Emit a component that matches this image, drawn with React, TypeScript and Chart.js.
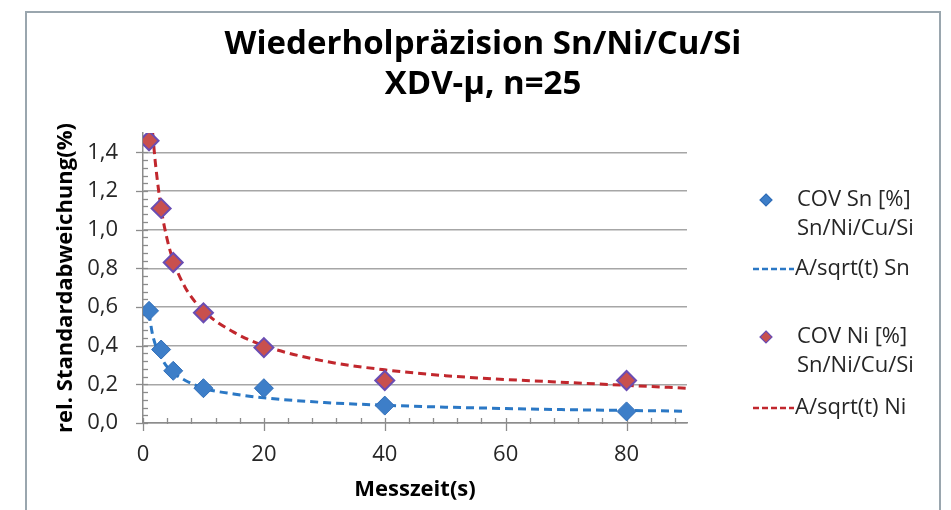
import React, { useEffect, useRef } from 'react';
import { Chart, registerables } from 'chart.js';

Chart.register(...registerables);

// ---- data ----
const titleLines = ['Wiederholpräzision Sn/Ni/Cu/Si', 'XDV-µ, n=25'];
const xAxisTitle = 'Messzeit(s)';
const yAxisTitle = 'rel. Standardabweichung(%)';

const measureTimes = [1, 3, 5, 10, 20, 40, 80];
const covSn = [0.58, 0.38, 0.27, 0.18, 0.18, 0.09, 0.06];
const covNi = [1.46, 1.11, 0.83, 0.57, 0.39, 0.22, 0.22];

const fitSnTimes = [1, 1.5, 2, 3, 4, 5, 7, 10, 15, 20, 30, 40, 50, 60, 70, 80, 90];
const fitSn = [0.57, 0.47, 0.41, 0.34, 0.29, 0.26, 0.22, 0.18, 0.15, 0.13, 0.106, 0.092, 0.082, 0.075, 0.069, 0.065, 0.061];

const fitNiTimes = [1.6, 2, 3, 4, 5, 7, 10, 15, 20, 30, 40, 50, 60, 70, 80, 90];
const fitNi = [1.5, 1.36, 1.11, 0.95, 0.84, 0.7, 0.58, 0.47, 0.4, 0.32, 0.275, 0.245, 0.225, 0.21, 0.195, 0.18];

const seriesLabels = ['COV Sn [%] Sn/Ni/Cu/Si', 'A/sqrt(t) Sn', 'COV Ni [%] Sn/Ni/Cu/Si', 'A/sqrt(t) Ni'];
const legendLines = [['COV Sn [%]', 'Sn/Ni/Cu/Si'], ['A/sqrt(t) Sn'], ['COV Ni [%]', 'Sn/Ni/Cu/Si'], ['A/sqrt(t) Ni']];

const xMin = 0, xMax = 90, xStep = 20, xMinorStep = 4;
const yMin = 0, yMax = 1.5, yStep = 0.2, yMinorStep = 0.04;

// ---- styles ----
const FONT = '"Open Sans", Lato, sans-serif';
const BLUE = '#3d7ec8';
const BLUE_EDGE = '#2f6db8';
const BLUE_LINE = '#2b78c5';
const RED = '#c8504e';
const RED_EDGE = '#6a4db3';
const RED_LINE = '#c1272d';
const AXIS = '#8c8c8c';
const GRID = '#a6a6a6';
const TEXT = '#262626';

const toXY = (xs: number[], ys: number[]) => xs.map((x, i) => ({ x, y: ys[i] }));

const axisDecor = {
  id: 'axisDecor',
  beforeDatasetsDraw(chart: any) {
    const { ctx, chartArea, scales } = chart;
    const xs = scales.x, ys = scales.y;
    ctx.save();
    ctx.strokeStyle = AXIS;
    ctx.lineWidth = 1.3;
    const x0 = chartArea.left, y0 = chartArea.bottom;
    for (let v = yMin; v <= yMax + 1e-9; v += yMinorStep) {
      const p = Math.round(ys.getPixelForValue(v)) + 0.5;
      const isMajor = Math.abs(v / yStep - Math.round(v / yStep)) < 1e-6;
      ctx.beginPath();
      ctx.moveTo(isMajor ? x0 - 7 : x0, p);
      ctx.lineTo(x0 + 5, p);
      ctx.stroke();
    }
    for (let v = xMin; v <= xMax + 1e-9; v += xMinorStep) {
      const p = Math.round(xs.getPixelForValue(v)) + 0.5;
      const isMajor = Math.abs(v / xStep - Math.round(v / xStep)) < 1e-6;
      ctx.beginPath();
      ctx.moveTo(p, y0 - 5);
      ctx.lineTo(p, isMajor ? y0 + 8 : y0 + 1);
      ctx.stroke();
    }
    ctx.restore();
  },
};

const customLegend = {
  id: 'customLegend',
  afterDraw(chart: any) {
    const { ctx } = chart;
    const rowY = [200, 269, 337, 408];
    const lineH = 29;
    const textX = 797;
    ctx.save();
    ctx.font = `22px ${FONT}`;
    ctx.fillStyle = TEXT;
    ctx.textBaseline = 'middle';
    ctx.textAlign = 'left';
    legendLines.forEach((lines, i) => {
      const y = rowY[i];
      const isPoint = i % 2 === 0;
      const isSn = i < 2;
      if (isPoint) {
        ctx.save();
        ctx.fillStyle = isSn ? BLUE : RED;
        ctx.strokeStyle = isSn ? BLUE_EDGE : RED_EDGE;
        ctx.lineWidth = 1.2;
        ctx.beginPath();
        ctx.moveTo(766, y - 6);
        ctx.lineTo(772, y);
        ctx.lineTo(766, y + 6);
        ctx.lineTo(760, y);
        ctx.closePath();
        ctx.fill();
        ctx.stroke();
        ctx.restore();
      } else {
        ctx.save();
        ctx.strokeStyle = isSn ? BLUE_LINE : RED_LINE;
        ctx.lineWidth = 2.5;
        ctx.setLineDash([6, 3]);
        ctx.beginPath();
        ctx.moveTo(753, y);
        ctx.lineTo(794, y);
        ctx.stroke();
        ctx.restore();
      }
      lines.forEach((t, k) => {
        ctx.fillText(t, isPoint ? textX : 795, y + k * lineH);
      });
    });
    ctx.restore();
  },
};

export default function App() {
  const ref = useRef<HTMLCanvasElement>(null);

  useEffect(() => {
    if (!ref.current) return;
    const chart = new Chart(ref.current, {
      type: 'scatter',
      data: {
        datasets: [
          {
            label: seriesLabels[0],
            data: toXY(measureTimes, covSn),
            pointStyle: 'rectRot',
            pointRadius: 9.5,
            backgroundColor: BLUE,
            borderColor: BLUE_EDGE,
            borderWidth: 1,
            showLine: false,
            order: 0,
          },
          {
            label: seriesLabels[1],
            data: toXY(fitSnTimes, fitSn),
            showLine: true,
            pointRadius: 0,
            borderColor: BLUE_LINE,
            borderWidth: 3,
            borderDash: [8, 5],
            cubicInterpolationMode: 'monotone',
            order: 1,
          },
          {
            label: seriesLabels[2],
            data: toXY(measureTimes, covNi),
            pointStyle: 'rectRot',
            pointRadius: 9.5,
            backgroundColor: RED,
            borderColor: RED_EDGE,
            borderWidth: 2,
            showLine: false,
            order: 0,
          },
          {
            label: seriesLabels[3],
            data: toXY(fitNiTimes, fitNi),
            showLine: true,
            pointRadius: 0,
            borderColor: RED_LINE,
            borderWidth: 3,
            borderDash: [8, 5],
            cubicInterpolationMode: 'monotone',
            order: 1,
          },
        ] as any,
      },
      options: {
        responsive: false,
        animation: false,
        devicePixelRatio: 1,
        layout: { padding: { left: 15, top: 0, right: 0, bottom: 0 } },
        plugins: {
          legend: { display: false },
          tooltip: { enabled: false },
          title: {
            display: true,
            text: titleLines,
            color: '#000',
            font: { family: FONT, size: 33, weight: 'bold', lineHeight: 40 / 33 },
            padding: { top: 25, bottom: 28 },
          },
        },
        scales: {
          x: {
            type: 'linear',
            position: 'bottom',
            min: xMin,
            max: xMax,
            afterFit: (s: any) => { s.height = 87; },
            ticks: {
              stepSize: xStep,
              includeBounds: false,
              padding: 19,
              color: TEXT,
              font: { family: FONT, size: 22 },
            },
            grid: { display: true, drawOnChartArea: false, drawTicks: false },
            border: { display: true, color: AXIS, width: 1.5 },
            title: {
              display: true,
              text: xAxisTitle,
              color: '#000',
              font: { family: FONT, size: 22, weight: 'bold' },
              padding: { top: 0, bottom: 7 },
            },
          },
          y: {
            type: 'linear',
            position: 'left',
            min: yMin,
            max: yMax,
            afterFit: (s: any) => { s.width = 128; },
            ticks: {
              stepSize: yStep,
              includeBounds: false,
              padding: 25,
              color: TEXT,
              font: { family: FONT, size: 22 },
              callback: (v: any) => Number(v).toFixed(1).replace('.', ','),
            },
            grid: { color: GRID, lineWidth: 1.5, drawTicks: false },
            border: { display: true, color: AXIS, width: 1.5 },
            title: {
              display: true,
              text: yAxisTitle,
              color: '#000',
              font: { family: FONT, size: 22, weight: 'bold' },
              padding: { top: 38, bottom: 0 },
            },
          },
          legendSpace: {
            type: 'linear',
            position: 'right',
            display: true,
            afterFit: (s: any) => { s.width = 264; },
            ticks: { display: false },
            grid: { display: false, drawTicks: false },
            border: { display: false },
          },
        } as any,
      },
      plugins: [axisDecor, customLegend],
    });
    return () => chart.destroy();
  }, []);

  return (
    <div style={{ position: 'fixed', left: 0, top: 0, width: 951, height: 510, background: '#fff', overflow: 'hidden' }}>
      <div
        style={{
          position: 'absolute',
          left: 25,
          top: 11,
          width: 916,
          height: 600,
          border: '2px solid #9aa6ae',
          boxSizing: 'border-box',
        }}
      />
      <canvas ref={ref} width={951} height={510} style={{ position: 'absolute', left: 0, top: 0, width: 951, height: 510 }} />
    </div>
  );
}
